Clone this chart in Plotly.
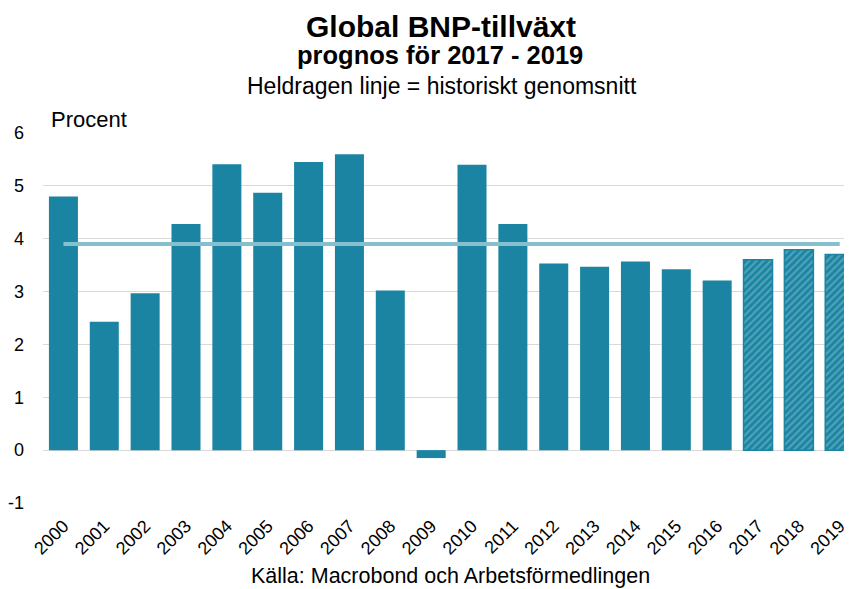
import plotly.graph_objects as go

years = [str(y) for y in range(2000, 2020)]
growth = [4.8, 2.43, 2.97, 4.28, 5.41, 4.87, 5.45, 5.6, 3.02, -0.15,
          5.4, 4.28, 3.53, 3.47, 3.57, 3.42, 3.21, 3.6, 3.79, 3.7]
is_forecast = [y in ("2017", "2018", "2019") for y in years]
hist_avg = 3.9

BAR = "#1a84a2"
LIGHT = "#86c0cf"

hist_x = [y for y, f in zip(years, is_forecast) if not f]
hist_y = [v for v, f in zip(growth, is_forecast) if not f]
fc_x = [y for y, f in zip(years, is_forecast) if f]
fc_y = [v for v, f in zip(growth, is_forecast) if f]

# page body has an 8px margin; figure sized to fill the rest of the window
OFF = 8
W, H = 852 - OFF, 589 - OFF
L, R, T, B = 43 - OFF, 0, 133 - OFF, 589 - 503
pw, ph = W - L - R, H - T - B


def px(x):
    return (x - OFF - L) / pw


def py(y):
    return (H - B - (y - OFF)) / ph


fig = go.Figure()
fig.add_trace(go.Bar(x=hist_x, y=hist_y, marker=dict(color=BAR, line=dict(width=0)),
                     showlegend=False, hoverinfo="x+y"))
fig.add_trace(go.Bar(x=fc_x, y=fc_y,
                     marker=dict(color=BAR, line=dict(color=BAR, width=1.5),
                                 pattern=dict(shape="/", fgcolor=LIGHT, bgcolor=BAR,
                                              size=5, solidity=0.45, fillmode="overlay")),
                     showlegend=False, hoverinfo="x+y"))
fig.add_trace(go.Scatter(x=[years[0], years[-1]], y=[hist_avg, hist_avg], mode="lines",
                         line=dict(color=LIGHT, width=4), showlegend=False, hoverinfo="skip"))

fig.update_layout(
    width=W, height=H,
    margin=dict(l=L, r=R, t=T, b=B, autoexpand=False),
    paper_bgcolor="white", plot_bgcolor="white",
    font=dict(family="Liberation Sans, Arial, sans-serif", color="#000000", size=16),
    barmode="overlay", bargap=0.29,
    xaxis=dict(type="category", categoryorder="array", categoryarray=years,
               range=[-0.5, 19.3], tickangle=-45, tickfont=dict(size=18),
               ticklabelstandoff=8,
               showgrid=False, showline=False, ticks="", zeroline=False, automargin=False),
    yaxis=dict(range=[-1, 6], tickfont=dict(size=18),
               tickvals=[-1, 0, 1, 2, 3, 4, 5, 6],
               ticktext=["-1", "0", "1", "2", "3", "4", "5", "6"],
               ticklabelstandoff=18,
               showgrid=True, gridcolor="#d9d9d9", gridwidth=1,
               zeroline=True, zerolinecolor="#d9d9d9", zerolinewidth=1,
               ticks="", showline=False, automargin=False),
)

fig.add_annotation(text="<b>Global BNP-tillväxt</b>", x=px(441), y=py(26), xref="paper", yref="paper",
                   showarrow=False, font=dict(size=30), xanchor="center", yanchor="middle")
fig.add_annotation(text="<b>prognos för 2017 - 2019</b>", x=px(440), y=py(55), xref="paper", yref="paper",
                   showarrow=False, font=dict(size=25.5), xanchor="center", yanchor="middle")
fig.add_annotation(text="Heldragen linje = historiskt genomsnitt", x=px(442), y=py(86), xref="paper", yref="paper",
                   showarrow=False, font=dict(size=23), xanchor="center", yanchor="middle")
fig.add_annotation(text="Procent", x=px(49), y=py(120), xref="paper", yref="paper",
                   showarrow=False, font=dict(size=22), xanchor="left", yanchor="middle")
fig.add_annotation(text="Källa: Macrobond och Arbetsförmedlingen", x=px(451), y=py(576), xref="paper", yref="paper",
                   showarrow=False, font=dict(size=21.5), xanchor="center", yanchor="middle")

fig.write_html("out.html")
